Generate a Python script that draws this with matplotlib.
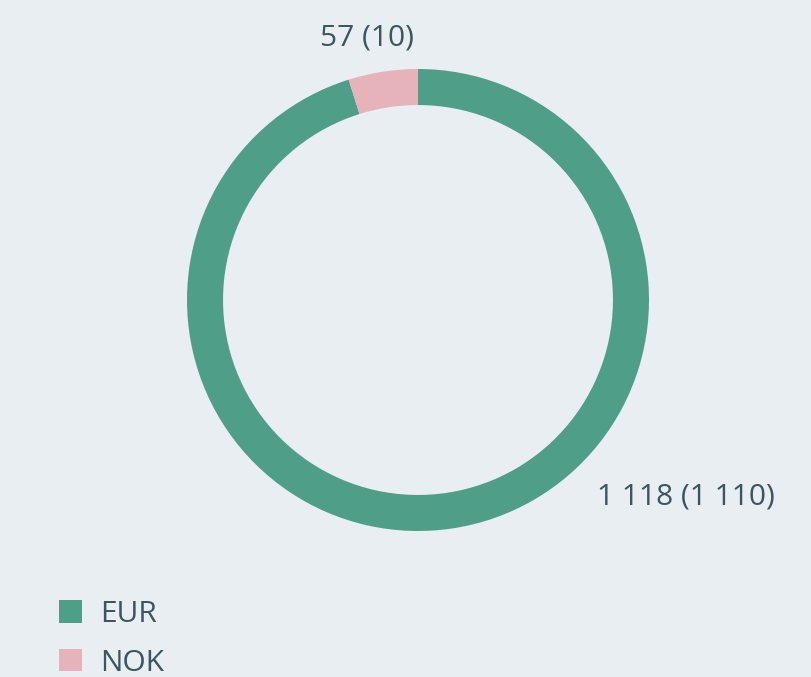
import matplotlib
matplotlib.use("Agg")
import matplotlib.pyplot as plt
from matplotlib.patches import Patch

# data
currencies = ["EUR", "NOK"]
values = [1118, 57]
prev_values = [1110, 10]
colors = ["#4f9e88", "#e7b3ba"]

bg = "#e8eef2"
text_color = "#3b5561"
plt.rcParams["font.family"] = ["Open Sans", "DejaVu Sans"]

W, H = 811, 677
fig = plt.figure(figsize=(W / 100, H / 100), dpi=100, facecolor=bg)

# donut centre and radius in pixels
cx, cy, r = 418, 300, 231
ax = fig.add_axes([(cx - r) / W, 1 - (cy + r) / H, 2 * r / W, 2 * r / H])
ax.set_facecolor(bg)
wedges, _ = ax.pie(values, colors=colors, startangle=90, counterclock=False,
                   radius=1.0, wedgeprops=dict(width=0.156, linewidth=0))
ax.set_xlim(-1, 1)
ax.set_ylim(-1, 1)
ax.set_aspect("equal")
ax.axis("off")

labels = [f"{v:,}".replace(",", " ") + f" ({p:,})".replace(",", " ")
          for v, p in zip(values, prev_values)]
fig.text(367 / W, 1 - 38 / H, labels[1], ha="center", va="center",
         fontsize=21.5, color=text_color)
fig.text(686 / W, 1 - 497 / H, labels[0], ha="center", va="center",
         fontsize=21.5, color=text_color)

handles = [Patch(facecolor=c, edgecolor="none") for c in colors]
fig.legend(handles, currencies, loc="upper left", bbox_to_anchor=(59 / W, 1 - 600 / H),
           frameon=False, fontsize=21.5, labelcolor=text_color,
           handlelength=0.77, handleheight=0.77, handletextpad=0.6,
           labelspacing=0.66, borderpad=0, borderaxespad=0)

fig.savefig("out.png", dpi=100, facecolor=bg)
